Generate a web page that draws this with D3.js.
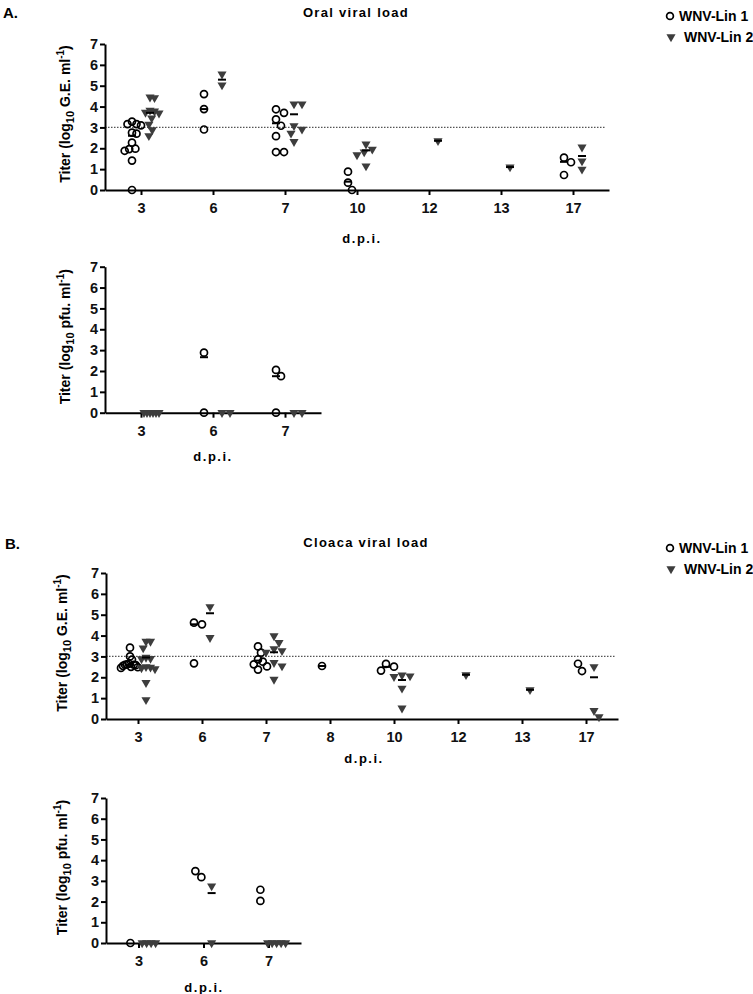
<!DOCTYPE html>
<html><head><meta charset="utf-8">
<script src="https://cdn.jsdelivr.net/npm/d3@7"></script>
<style>
html,body{margin:0;padding:0;background:#fff;}
svg{display:block;font-family:"Liberation Sans",Arial,sans-serif;}
</style></head>
<body><svg id="c" width="753" height="994"></svg>
<script>
// ---------- DATA ----------
const seriesNames = ["WNV-Lin 1", "WNV-Lin 2"];
const yTicks = [0, 1, 2, 3, 4, 5, 6, 7];
const threshold = 3;

// Panel A (oral) - genome equivalents
const oralDays = ["3", "6", "7", "10", "12", "13", "17"];
const oralLin1 = [[3.28,3.16,3.16,3.1,2.75,2.7,2.27,1.98,1.96,1.88,1.41,0],[4.6,3.88,2.9],[3.87,3.7,3.39,3.08,2.58,1.82,1.82],[0.88,0.35,0],[],[],[1.55,1.33,0.72]];
const oralLin2 = [[4.45,4.42,3.82,3.78,3.72,3.68,3.45,3.15,2.88,2.6],[5.55,5.03],[4.12,4.12,3.08,2.91,2.72,2.32],[2.2,1.95,1.82,1.68,1.15],[2.36],[1.1],[2.05,1.39,0.99]];
const oralLin1Centre = [2.6, 3.88, 3.2, 0.4, null, null, 1.35];
const oralLin2Centre = [3.7, 5.29, 3.63, 1.9, 2.36, 1.1, 1.63];

// Panel A (oral) - pfu
const oralPfuDays = ["3", "6", "7"];
const oralPfuLin1 = [[], [2.88, 0], [2.05, 1.75, 0]];
const oralPfuLin2 = [[0,0,0,0,0,0], [0,0], [0,0]];
const oralPfuLin1Centre = [null, 2.66, 1.75];
const oralPfuLin2Centre = [null, null, null];

// Panel B (cloaca) - genome equivalents
const cloacaDays = ["3", "6", "7", "8", "10", "12", "13", "17"];
const cloacaLin1 = [[3.42,3.0,2.85,2.65,2.62,2.6,2.6,2.58,2.55,2.5,2.48,2.45],[4.62,4.54,2.67],[3.48,3.18,2.86,2.75,2.62,2.52,2.37],[2.54],[2.64,2.51,2.32],[],[],[2.65,2.3]];
const cloacaLin2 = [[3.72,3.72,3.4,2.95,2.9,2.88,2.5,2.48,2.45,2.4,1.74,0.92],[5.38,3.9],[3.98,3.66,3.36,3.27,3.2,2.7,2.54,1.9],[],[2.1,2.06,2.03,1.47,0.52],[2.12],[1.4],[2.5,0.4,0.1]];
const cloacaLin1Centre = [2.6, 4.54, 2.8, 2.54, 2.5, null, null, null];
const cloacaLin2Centre = [2.95, 5.07, 3.2, null, 1.87, 2.12, 1.4, 2.0];

// Panel B (cloaca) - pfu
const cloacaPfuDays = ["3", "6", "7"];
const cloacaPfuLin1 = [[0], [3.47, 3.18], [2.57, 2.03]];
const cloacaPfuLin2 = [[0,0,0,0], [2.75, 0], [0,0,0,0,0]];
const cloacaPfuLin1Centre = [null, null, null];
const cloacaPfuLin2Centre = [null, 2.41, null];

// ---------- DRAWING ----------
const svg = d3.select("#c");
const FONT = "bold";
const triColor = "#3d3d3d";
const triPath = d3.symbol(d3.symbolTriangle, 36)();

function swarm(vals, y, D, L) {
  const pts = vals.map(v => ({v, py: y(v), dx: 0}));
  const order = pts.slice().sort((a, b) => a.py - b.py);
  const placed = [];
  for (const p of order) {
    for (let k = 0; k < 400; k++) {
      const off = k === 0 ? 0 : (k % 2 === 1 ? (k + 1) / 2 : -k / 2);
      const hit = placed.some(q => (off - q.dx) ** 2 + (p.py - q.py) ** 2 < D * D);
      if (!hit) { p.dx = off; break; }
    }
    placed.push(p);
  }
  const m = d3.max(pts, p => Math.abs(p.dx)) || 0;
  if (m > L) pts.forEach(p => p.dx *= L / m);
  return pts;
}

function panel(cfg) {
  const g = svg.append("g");
  const x = d3.scalePoint().domain(cfg.days).range([cfg.x0, cfg.x1]).padding(0.5);
  const y = d3.scaleLinear().domain([0, 7]).range([cfg.y0, cfg.y7]);
  const off = x.step() * 0.125;

  if (cfg.dotted) {
    g.append("line").attr("x1", cfg.x0).attr("x2", cfg.x1 - 3)
      .attr("y1", y(threshold)).attr("y2", y(threshold))
      .attr("stroke", "#555").attr("stroke-width", 1.2).attr("stroke-dasharray", "1.5,1.5");
  }

  const xa = g.append("g").attr("transform", `translate(0,${cfg.y0})`)
    .call(d3.axisBottom(x).tickSize(5).tickPadding(8).tickSizeOuter(0));
  const ya = g.append("g").attr("transform", `translate(${cfg.x0},0)`)
    .call(d3.axisLeft(y).tickValues(yTicks).tickFormat(d3.format("d")).tickSize(5).tickPadding(2).tickSizeOuter(0));
  [xa, ya].forEach(a => {
    a.selectAll("path,line").attr("stroke", "#000").attr("stroke-width", 2);
    a.selectAll("text").attr("font-size", 14.5).attr("font-weight", FONT).attr("fill", "#111")
      .attr("font-family", "'Liberation Sans',Arial,sans-serif");
  });

  // axis titles
  g.append("text").attr("x", cfg.xTitleX).attr("y", cfg.xTitleY)
    .attr("text-anchor", "middle").attr("font-size", 13).attr("font-weight", FONT)
    .attr("letter-spacing", 1.5).text("d.p.i.");
  const yt = g.append("text")
    .attr("transform", `translate(${cfg.yTitleX},${(cfg.y0 + cfg.y7) / 2 - 3}) rotate(-90)`)
    .attr("text-anchor", "middle").attr("font-size", 14).attr("font-weight", FONT);
  yt.append("tspan").text("Titer (log");
  yt.append("tspan").attr("font-size", 11).attr("dy", 4).text("10");
  yt.append("tspan").attr("dy", -4).text(" " + cfg.unit + " ml");
  yt.append("tspan").attr("font-size", 10).attr("dy", -6).text("-1");
  yt.append("tspan").attr("dy", 6).text(")");

  // points
  cfg.days.forEach((d, i) => {
    const cx1 = x(d) - off, cx2 = x(d) + off;
    const p1 = swarm(cfg.s1[i], y, 8, 9);
    const p2 = swarm(cfg.s2[i], y, 8, 9);
    g.selectAll(null).data(p1).enter().append("circle")
      .attr("cx", p => cx1 + p.dx).attr("cy", p => p.py).attr("r", 3.5)
      .attr("fill", "none").attr("stroke", "#000").attr("stroke-width", 1.7);
    g.selectAll(null).data(p2).enter().append("path")
      .attr("d", triPath)
      .attr("transform", p => `translate(${cx2 + p.dx},${p.py}) rotate(180)`)
      .attr("fill", triColor);
    [[cfg.c1[i], cx1], [cfg.c2[i], cx2]].forEach(([c, cx]) => {
      if (c == null) return;
      g.append("line").attr("x1", cx - 4).attr("x2", cx + 4)
        .attr("y1", y(c)).attr("y2", y(c)).attr("stroke", "#000").attr("stroke-width", 2);
    });
  });
  return g;
}

function header(letter, lx, ly, title, tx, ty, legY) {
  svg.append("text").attr("x", lx).attr("y", ly).attr("font-size", 15).attr("font-weight", FONT).text(letter);
  svg.append("text").attr("x", tx).attr("y", ty).attr("text-anchor", "middle")
    .attr("font-size", 13).attr("font-weight", FONT).attr("letter-spacing", 1.3).text(title);
  svg.append("circle").attr("cx", 670).attr("cy", legY).attr("r", 3.4)
    .attr("fill", "none").attr("stroke", "#000").attr("stroke-width", 1.7);
  svg.append("text").attr("x", 679).attr("y", legY + 5).attr("font-size", 14).attr("font-weight", FONT).text(seriesNames[0]);
  svg.append("path").attr("d", triPath).attr("transform", `translate(671,${legY + 21}) rotate(180)`).attr("fill", triColor);
  svg.append("text").attr("x", 684).attr("y", legY + 26).attr("font-size", 14).attr("font-weight", FONT).text(seriesNames[1]);
}

header("A.", 3, 18, "Oral viral load", 356, 17, 16);
header("B.", 5, 549, "Cloaca viral load", 366, 547, 548);

panel({days: oralDays, s1: oralLin1, s2: oralLin2, c1: oralLin1Centre, c2: oralLin2Centre,
  x0: 105, x1: 609, y0: 190, y7: 44, dotted: true, unit: "G.E.",
  xTitleX: 362, xTitleY: 243, yTitleX: 70});
panel({days: oralPfuDays, s1: oralPfuLin1, s2: oralPfuLin2, c1: oralPfuLin1Centre, c2: oralPfuLin2Centre,
  x0: 105, x1: 321, y0: 412.7, y7: 266.7, dotted: false, unit: "pfu.",
  xTitleX: 213, xTitleY: 461, yTitleX: 70});
panel({days: cloacaDays, s1: cloacaLin1, s2: cloacaLin2, c1: cloacaLin1Centre, c2: cloacaLin2Centre,
  x0: 106, x1: 618, y0: 719, y7: 573, dotted: true, unit: "G.E.",
  xTitleX: 364, xTitleY: 763, yTitleX: 67});
panel({days: cloacaPfuDays, s1: cloacaPfuLin1, s2: cloacaPfuLin2, c1: cloacaPfuLin1Centre, c2: cloacaPfuLin2Centre,
  x0: 106, x1: 301, y0: 943, y7: 798, dotted: false, unit: "pfu.",
  xTitleX: 204, xTitleY: 992, yTitleX: 67});
</script>
</body></html>
